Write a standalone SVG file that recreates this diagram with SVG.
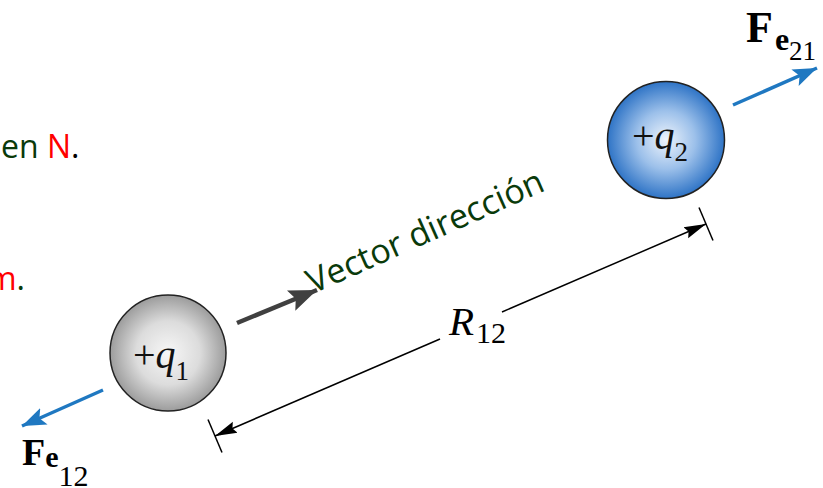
<svg xmlns="http://www.w3.org/2000/svg" width="823" height="488" viewBox="0 0 823 488">
  <defs>
    <radialGradient id="gGray" cx="0.5" cy="0.5" r="0.5">
      <stop offset="0" stop-color="#f7f7f7"/>
      <stop offset="0.55" stop-color="#dcdcdc"/>
      <stop offset="1" stop-color="#9c9c9c"/>
    </radialGradient>
    <radialGradient id="gBlue" cx="0.5" cy="0.5" r="0.5">
      <stop offset="0" stop-color="#eef4fc"/>
      <stop offset="0.5" stop-color="#9cc0ea"/>
      <stop offset="1" stop-color="#2f74c6"/>
    </radialGradient>
    <marker id="mBlue" markerUnits="userSpaceOnUse" markerWidth="26" markerHeight="20" refX="24" refY="10" orient="auto">
      <path d="M0,1 L24,10 L0,19 L5,10 z" fill="#1f78c1"/>
    </marker>
    <marker id="mGray" markerUnits="userSpaceOnUse" markerWidth="30" markerHeight="24" refX="28" refY="12" orient="auto">
      <path d="M0,1 L28,12 L0,23 L5,12 z" fill="#404040"/>
    </marker>
    <marker id="mBlack" markerUnits="userSpaceOnUse" markerWidth="24" markerHeight="14" refX="22" refY="7" orient="auto">
      <path d="M0,1 L22,7 L0,13 L3,7 z" fill="#000"/>
    </marker>
  </defs>
  <style>
    .side { font-family: "Open Sans", "DejaVu Sans", sans-serif; font-size: 32px; fill: #0a3a0a; }
    .red { fill: #ff0000; }
    .blk { fill: #000; }
    .serif { font-family: "Liberation Serif", "Times New Roman", serif; fill: #000; }
    .q { font-family: "Liberation Serif", "Times New Roman", serif; font-size: 40px; fill: #111; }
    .force { stroke: #1f78c1; stroke-width: 3.5; fill: none; }
    .dim { stroke: #000; stroke-width: 1.5; fill: none; }
  </style>

  <g id="side-text">
    <text class="side" x="1" y="158">en <tspan class="red">N</tspan><tspan class="blk">.</tspan></text>
    <text class="side" x="25" y="290" text-anchor="end"><tspan class="red">m</tspan>.</text>
  </g>

  <g id="q1">
    <circle cx="168" cy="353" r="58" fill="url(#gGray)" stroke="#222" stroke-width="1.5"/>
    <text class="q" x="133" y="368">+<tspan font-style="italic">q</tspan><tspan font-size="27" dy="12">1</tspan></text>
  </g>

  <g id="q2">
    <circle cx="666" cy="140" r="58.5" fill="url(#gBlue)" stroke="#222" stroke-width="1.5"/>
    <text class="q" x="632" y="149">+<tspan font-style="italic">q</tspan><tspan font-size="27" dy="12">2</tspan></text>
  </g>

  <g id="label-fe12">
    <text class="serif" x="22" y="465" font-size="38" font-weight="bold">F<tspan font-size="30" dy="2">e</tspan><tspan font-size="30" font-weight="normal" dy="19">12</tspan></text>
  </g>

  <g id="label-fe21">
    <text class="serif" x="746" y="42" font-size="44" font-weight="bold">F<tspan font-size="32" dx="2" dy="8">e</tspan><tspan font-size="27" font-weight="normal" dy="10">21</tspan></text>
  </g>

  <g id="label-r12">
    <text class="serif" x="449" y="335" font-size="41" font-style="italic">R<tspan font-style="normal" font-size="30" dx="2" dy="8">12</tspan></text>
  </g>

  <g id="label-vector">
    <text x="0" y="0" transform="translate(313,294) rotate(-24)" font-family="Open Sans, DejaVu Sans, sans-serif" font-size="34" fill="#0a3a0a">Vector dirección</text>
  </g>

  <g id="connectors">
    <line class="force" x1="103" y1="390" x2="22" y2="426" marker-end="url(#mBlue)"/>
    <line class="force" x1="733" y1="105" x2="817" y2="68" marker-end="url(#mBlue)"/>
    <line x1="237" y1="323" x2="317" y2="290" stroke="#404040" stroke-width="4.5" marker-end="url(#mGray)"/>
    <line class="dim" x1="440" y1="339" x2="215" y2="436" marker-end="url(#mBlack)"/>
    <line class="dim" x1="502" y1="312" x2="706" y2="224" marker-end="url(#mBlack)"/>
    <line class="dim" x1="208" y1="419.5" x2="222" y2="452.5"/>
    <line class="dim" x1="699" y1="207.5" x2="713" y2="240.5"/>
  </g>
</svg>
